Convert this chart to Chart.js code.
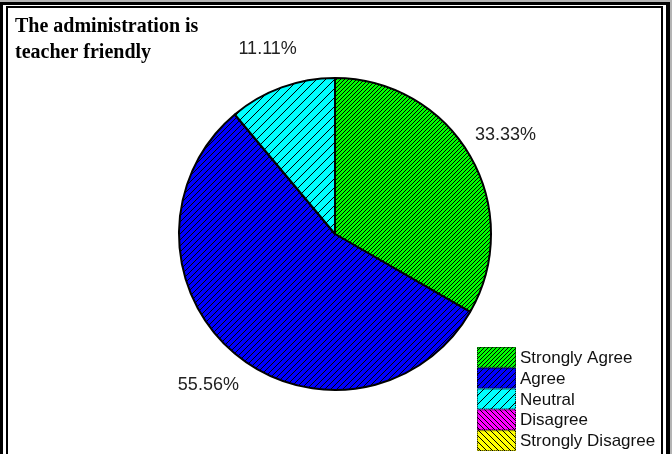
<!DOCTYPE html>
<html>
<head>
<meta charset="utf-8">
<script src="https://cdn.jsdelivr.net/npm/chart.js@4.4.0/dist/chart.umd.min.js"></script>
<style>
  html, body { margin: 0; padding: 0; background: #fff; }
  #wrap { width: 672px; height: 454px; position: relative; }
</style>
</head>
<body>
<div id="wrap"><canvas id="c" width="672" height="454"></canvas></div>
<script>
const titleLines = ["The administration is", "teacher friendly"];
const categories = ["Strongly Agree", "Agree", "Neutral", "Disagree", "Strongly Disagree"];
const percentValues = [33.33, 55.56, 11.11, 0, 0];
const baseColors = ["#00ff00", "#0000ff", "#00ffff", "#ff00ff", "#ffff00"];
const hatchPeriod = [4, 6, 9, 5, 6];
const hatchDir = ["/", "/", "/", "\\", "\\"];

function makePattern(color, p, dir) {
  const t = document.createElement('canvas');
  t.width = p; t.height = p;
  const g = t.getContext('2d');
  g.fillStyle = color;
  g.fillRect(0, 0, p, p);
  g.strokeStyle = '#000';
  g.lineWidth = 1;
  g.beginPath();
  if (dir === '/') {
    g.moveTo(-1, p + 1); g.lineTo(p + 1, -1);
    g.moveTo(-1, 1); g.lineTo(1, -1);
    g.moveTo(p - 1, p + 1); g.lineTo(p + 1, p - 1);
  } else {
    g.moveTo(-1, -1); g.lineTo(p + 1, p + 1);
    g.moveTo(p - 1, -1); g.lineTo(p + 1, 1);
    g.moveTo(-1, p - 1); g.lineTo(1, p + 1);
  }
  g.stroke();
  return document.getElementById('c').getContext('2d').createPattern(t, 'repeat');
}
const patterns = baseColors.map((c, i) => makePattern(c, hatchPeriod[i], hatchDir[i]));

const framePlugin = {
  id: 'frame',
  beforeDraw(chart) {
    const ctx = chart.ctx;
    const W = chart.width, H = chart.height;
    ctx.save();
    ctx.fillStyle = '#fff';
    ctx.fillRect(0, 0, W, H);
    ctx.fillStyle = '#b4b4b4';
    ctx.fillRect(0, 0, W, 2);
    ctx.fillRect(670, 0, 2, H);
    ctx.fillStyle = '#000';
    ctx.fillRect(0, 2, 670, 3);
    ctx.fillRect(0, 2, 3, H);
    ctx.fillRect(666, 2, 4, H);
    ctx.fillRect(6, 6, 657, 2);
    ctx.fillRect(6, 6, 2, H);
    ctx.fillRect(661, 6, 2, H);
    ctx.fillStyle = '#000';
    ctx.font = 'bold 20px "Liberation Serif", "Times New Roman", serif';
    ctx.textBaseline = 'alphabetic';
    ctx.textAlign = 'left';
    ctx.fillText(titleLines[0], 15, 32);
    ctx.fillText(titleLines[1], 15, 58);
    ctx.restore();
  },
  afterDraw(chart) {
    const ctx = chart.ctx;
    const meta = chart.getDatasetMeta(0);
    const ds = chart.data.datasets[0];
    ctx.save();
    ctx.font = '18px "Liberation Sans", Arial, sans-serif';
    ctx.fillStyle = '#222';
    ctx.textAlign = 'center';
    ctx.textBaseline = 'middle';
    meta.data.forEach((arc, i) => {
      const v = ds.data[i];
      if (!v) return;
      const p = arc.getProps(['x', 'y', 'startAngle', 'endAngle', 'outerRadius'], true);
      const mid = (p.startAngle + p.endAngle) / 2;
      const r = p.outerRadius + 41;
      ctx.fillText(v.toFixed(2) + '%', p.x + Math.cos(mid) * r, p.y + Math.sin(mid) * r);
    });
    const bx = 477, bw = 39, by = 347, bh = 20.8;
    ctx.font = '17px "Liberation Sans", Arial, sans-serif';
    ctx.textAlign = 'left';
    chart.data.labels.forEach((lab, i) => {
      const y = by + i * bh;
      ctx.fillStyle = ds.backgroundColor[i];
      ctx.fillRect(bx, y, bw, bh);
      ctx.setLineDash([1, 1]);
      ctx.strokeStyle = '#000';
      ctx.lineWidth = 1;
      ctx.strokeRect(bx + 0.5, y + 0.5, bw - 1, bh - 1);
      ctx.setLineDash([]);
      ctx.fillStyle = '#111';
      ctx.fillText(lab, 520, y + bh / 2 + 1);
    });
    ctx.restore();
  }
};

new Chart(document.getElementById('c'), {
  type: 'pie',
  data: {
    labels: categories,
    datasets: [{
      data: percentValues,
      backgroundColor: patterns,
      borderColor: '#000',
      borderWidth: 2,
      borderAlign: 'center'
    }]
  },
  options: {
    responsive: false,
    animation: false,
    events: [],
    layout: { padding: { left: 178, right: 180, top: 77, bottom: 63 } },
    plugins: {
      legend: { display: false },
      title: { display: false },
      tooltip: { enabled: false }
    }
  },
  plugins: [framePlugin]
});
</script>
</body>
</html>
